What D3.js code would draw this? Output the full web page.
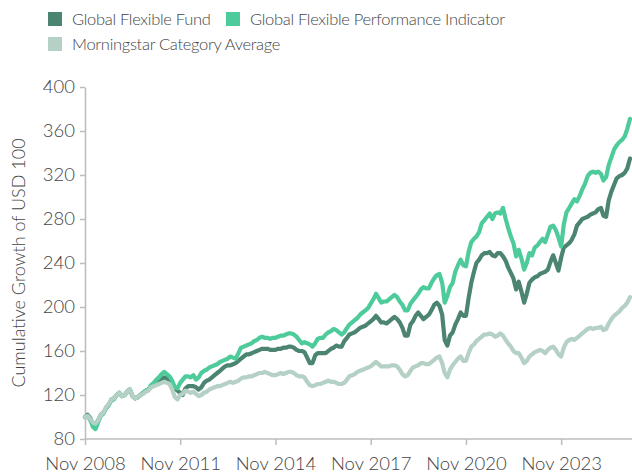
<!DOCTYPE html>
<html>
<head>
<meta charset="utf-8">
<script src="https://cdn.jsdelivr.net/npm/d3@7"></script>
<style>
body { margin: 0; background: #fff; }
svg text { font-family: Lato, "Open Sans", sans-serif; font-weight: 300; fill: #444; }
</style>
</head>
<body>
<svg id="chart" width="632" height="475"></svg>
<script>
// monthly values, first point Nov 2008
var startMonth = new Date(2008, 10, 1);

var seriesNames = ["Global Flexible Fund", "Global Flexible Performance Indicator", "Morningstar Category Average"];
var seriesColors = ["#4b8571", "#4ecb9b", "#b5d0c5"];

var fundValues = [
    100, 102, 99, 93, 93, 97, 102, 104, 108, 111, 116, 117,
    120, 122, 119, 120, 123, 125, 119, 117, 118, 120, 122, 124,
    125, 128, 130, 132, 133, 135, 136, 135, 134, 131, 126, 124,
    122, 120, 126, 128, 128, 128, 127, 125, 127, 131, 133, 134,
    136, 138, 140, 142, 144, 146, 147, 147, 148, 149, 151, 153,
    155, 157, 157, 158, 159, 160, 161, 162, 162, 162, 161, 161,
    161, 162, 162, 163, 163, 164, 164, 163, 161, 160, 160, 159,
    154, 149, 149, 156, 158, 158, 158, 158, 160, 162, 163, 165,
    164, 164, 169, 172, 175, 176, 177, 179, 181, 182, 183, 185,
    187, 189, 192, 189, 186, 186, 185, 187, 189, 191, 189, 186,
    181, 174, 174, 184, 187, 192, 195, 192, 189, 191, 193, 197,
    202, 204, 201, 193, 170, 165, 174, 177, 184, 189, 195, 192,
    192, 208, 222, 232, 240, 243, 247, 249, 249, 250, 247, 246,
    249, 249, 246, 242, 236, 231, 226, 216, 223, 214, 204, 212,
    222, 225, 227, 228, 230, 231, 232, 234, 241, 247, 240, 233,
    245, 254, 256, 258, 261, 266, 274, 277, 280, 281, 282, 284,
    285, 286, 289, 290, 283, 282, 297, 305, 311, 317, 319, 320,
    322, 326, 335
];

var indicatorValues = [
    100, 101, 97, 91, 89, 95, 101, 103, 108, 111, 115, 116,
    120, 122, 119, 120, 123, 125, 119, 117, 118, 120, 122, 124,
    125, 129, 131, 134, 136, 139, 141, 139, 137, 133, 127, 126,
    131, 134, 137, 137, 136, 138, 134, 136, 140, 142, 143, 145,
    146, 147, 148, 150, 151, 152, 153, 155, 154, 153, 158, 163,
    164, 165, 166, 167, 169, 170, 172, 173, 172, 172, 171, 172,
    172, 173, 174, 174, 175, 176, 176, 175, 173, 170, 167, 168,
    167, 166, 164, 167, 171, 172, 172, 175, 177, 178, 180, 179,
    177, 175, 177, 181, 184, 186, 188, 190, 193, 195, 197, 199,
    203, 207, 212, 208, 204, 205, 205, 207, 209, 211, 209, 205,
    202, 197, 197, 203, 206, 209, 212, 216, 218, 217, 217, 222,
    226, 229, 230, 222, 204, 210, 218, 222, 232, 238, 243, 238,
    237, 250, 259, 262, 264, 268, 276, 279, 282, 285, 280, 285,
    286, 285, 290, 280, 272, 264, 258, 246, 252, 244, 234, 240,
    249, 247, 254, 256, 259, 262, 259, 266, 273, 274, 270, 263,
    255, 275, 286, 290, 294, 298, 296, 301, 307, 312, 319, 322,
    323, 322, 323, 321, 315, 318, 329, 336, 343, 347, 350, 352,
    355, 362, 371
];

var categoryValues = [
    100, 101, 98, 95, 94, 97, 102, 104, 109, 112, 116, 117,
    120, 122, 119, 120, 123, 125, 119, 117, 118, 120, 121, 123,
    124, 127, 128, 129, 130, 131, 132, 131, 130, 125, 118, 116,
    120, 121, 124, 123, 122, 123, 121, 119, 120, 122, 123, 125,
    126, 127, 128, 128, 129, 130, 131, 132, 131, 132, 133, 135,
    136, 136, 137, 137, 138, 139, 140, 140, 141, 140, 139, 138,
    138, 139, 140, 139, 140, 141, 141, 140, 138, 137, 137, 136,
    132, 129, 128, 129, 130, 130, 131, 132, 133, 132, 132, 131,
    130, 130, 131, 134, 137, 138, 139, 141, 142, 143, 144, 145,
    146, 148, 150, 148, 146, 146, 146, 146, 147, 147, 146, 143,
    139, 137, 138, 142, 145, 146, 147, 149, 149, 148, 148, 150,
    152, 154, 155, 149, 140, 136, 143, 147, 150, 153, 155, 151,
    151, 158, 164, 166, 169, 171, 173, 175, 175, 176, 175, 173,
    174, 176, 174, 170, 167, 164, 160, 158, 158, 154, 149, 151,
    155, 157, 159, 160, 161, 160, 158, 161, 163, 164, 161, 157,
    155, 163, 168, 170, 171, 170, 172, 174, 176, 178, 180, 181,
    180, 181, 181, 182, 179, 180, 185, 189, 192, 194, 196, 199,
    201, 204, 209
];

var yTicks = [80, 120, 160, 200, 240, 280, 320, 360, 400];
var xTickYears = [2008, 2011, 2014, 2017, 2020, 2023];
var yTitle = "Cumulative Growth of USD 100";

function toPoints(values) {
    return values.map(function (v, i) {
        return { x: d3.timeMonth.offset(startMonth, i), y: v };
    });
}

function drawChart() {
    var graph = d3.select("#chart"),
        margins = { top: 87, right: 2, bottom: 439, left: 85 };

    var lastDate = d3.timeMonth.offset(startMonth, fundValues.length - 1);
    var xRange = d3.scaleTime()
            .range([margins.left, 630])
            .domain([startMonth, lastDate]),
        yRange = d3.scaleLinear()
            .range([margins.bottom, margins.top])
            .domain([80, 400]);

    var xAxis = d3.axisBottom(xRange)
            .tickValues(xTickYears.map(function (y) { return new Date(y, 10, 1); }))
            .tickFormat(d3.timeFormat("Nov %Y"))
            .tickSize(6)
            .tickSizeOuter(0),
        yAxis = d3.axisLeft(yRange)
            .tickValues(yTicks)
            .tickSize(5)
            .tickSizeOuter(0);

    var gx = graph.append("g")
        .attr("class", "x axis")
        .attr("transform", "translate(0," + margins.bottom + ")")
        .call(xAxis);
    // axis line runs to the right edge
    gx.select(".domain").attr("d", "M" + margins.left + ",0H632");
    gx.selectAll("text").attr("y", 31).attr("dy", 0).style("font-size", "18.5px");

    var gy = graph.append("g")
        .attr("class", "y axis")
        .attr("transform", "translate(" + margins.left + ",0)")
        .call(yAxis);
    gy.selectAll("text").attr("x", -10).style("font-size", "18.5px");

    graph.selectAll(".axis .domain, .axis .tick line")
        .attr("stroke", "#bdbdbd")
        .attr("stroke-width", 1.5);

    graph.append("text")
        .attr("transform", "rotate(-90)")
        .attr("x", -(margins.bottom + margins.top) / 2)
        .attr("y", 25)
        .attr("text-anchor", "middle")
        .style("font-size", "18px")
        .text(yTitle);

    var lineFunc = d3.line()
        .x(function (d) { return xRange(d.x); })
        .y(function (d) { return yRange(d.y); });

    var order = [[fundValues, 0], [indicatorValues, 1], [categoryValues, 2]];
    order.forEach(function (o) {
        graph.append("path")
            .attr("d", lineFunc(toPoints(o[0])))
            .attr("stroke", seriesColors[o[1]])
            .attr("stroke-width", 4.2)
            .attr("stroke-linejoin", "round")
            .attr("stroke-linecap", "round")
            .attr("fill", "none");
    });

    // legend
    var legendPos = [[48, 12], [226, 12], [48, 37]];
    var legend = graph.selectAll(".legend")
        .data(seriesNames)
        .enter().append("g")
        .attr("class", "legend")
        .attr("transform", function (d, i) {
            return "translate(" + legendPos[i][0] + "," + legendPos[i][1] + ")";
        });
    legend.append("rect")
        .attr("width", 14)
        .attr("height", 14)
        .attr("fill", function (d, i) { return seriesColors[i]; });
    legend.append("text")
        .attr("x", 24)
        .attr("y", 13)
        .style("font-size", "16.5px")
        .style("letter-spacing", "-0.3px")
        .text(function (d) { return d; });
}

drawChart();
</script>
</body>
</html>
